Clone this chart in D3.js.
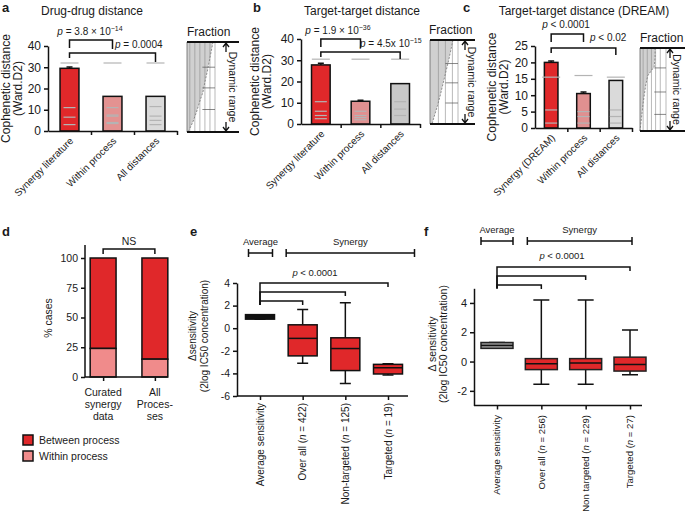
<!DOCTYPE html>
<meta charset="utf-8">
<script src="https://d3js.org/d3.v7.min.js"></script>
<style>
  body { margin: 0; background: #fff; }
  svg text { font-family: "Liberation Sans", Arial, sans-serif; fill: #1a1a1a; }
</style>
<div id="chart"></div>
<script>
var W = 685, H = 518;
var RED = "#e0282a";

// ---- a: drug-drug distance ----
var catsA = ["Synergy literature", "Within process", "All distances"];
var valsA = [29.5, 16.3, 16.3];
var errA = [0.6, 0, 0];
var dotsA = [[32, 11, 6.5, 3], [32, 11, 7.5, 7, 4, 3.5], [32, 11.5, 7, 5, 3]];
var fracA = [0.93, 0.86, 0.79, 0.72, 0.64, 0.57, 0.45, 0.34, 0.21, 0.04];

// ---- b: target-target distance ----
var catsB = ["Synergy literature", "Within process", "All distances"];
var valsB = [27.8, 10.7, 19];
var errB = [0.8, 0.5, 0];
var dotsB = [[30.5, 10.5, 6, 4, 2.5], [30.5, 6, 4, 3, 2], [30.5, 10.5, 7, 4]];
var fracB = [0.82, 0.75, 0.68, 0.6, 0.52, 0.44, 0.36, 0.27, 0.17, 0.07];

// ---- c: target-target distance (DREAM) ----
var catsC = ["Synergy (DREAM)", "Within process", "All distances"];
var valsC = [20, 10.5, 14.5];
var errC = [0.4, 0.5, 0];
var dotsC = [[15.5, 5.5, 1.5], [16, 5, 3.5, 1.5], [15.5, 5.5, 3.5, 1.5]];
var fracC = [0.58, 0.58, 0.55, 0.3, 0.22, 0.17, 0.12, 0.08, 0.04, 0.0];

// ---- d: % cases ----
var catsD = [["Curated", "synergy", "data"], ["All", "Proces-", "ses"]];
var withinD = [24, 15];
var betweenD = [76, 85];

// ---- e: delta sensitivity ----
var namesE = ["Average sensitivity", "Over all", "Non-targeted", "Targeted"];
var nE = [null, 422, 125, 19];
var minE = [0.8, -3.1, -4.9, -4.15];
var q1E = [0.8, -2.45, -3.75, -4.05];
var medE = [1.0, -0.9, -1.8, -3.5];
var q3E = [1.2, 0.3, -0.85, -3.2];
var maxE = [1.2, 1.65, 2.25, -3.15];

// ---- f: delta sensitivity ----
var namesF = ["Average sensitivity", "Over all", "Non targeted", "Targeted"];
var nF = [null, 256, 229, 27];
var minF = [0.9, -1.55, -1.55, -0.9];
var q1F = [0.9, -0.55, -0.55, -0.65];
var medF = [1.1, -0.15, -0.1, -0.2];
var q3F = [1.3, 0.2, 0.2, 0.3];
var maxF = [1.3, 4.2, 4.2, 2.15];

var svg = d3.select("#chart").append("svg")
  .attr("width", W).attr("height", H);

function txt(g, x, y, s, size, anchor) {
  return g.append("text").attr("x", x).attr("y", y)
    .attr("font-size", size).attr("text-anchor", anchor || "middle").text(s);
}

// text with italic / superscript pieces
function rich(g, x, y, parts, size, anchor) {
  var t = g.append("text").attr("x", x).attr("y", y)
    .attr("font-size", size).attr("text-anchor", anchor || "start");
  parts.forEach(function(p) {
    var s = t.append("tspan").text(p[0]);
    if (p[1] == "i") s.attr("font-style", "italic");
    if (p[1] == "sup") s.attr("font-size", size * 0.7).attr("dy", -size * 0.45);
  });
  return t;
}

function bracket(g, xa, xb, y, dl, dr) {
  g.append("path")
    .attr("d", "M" + xa + "," + (y + dl) + "V" + y + "H" + xb + "V" + (y + dr))
    .attr("fill", "none").attr("stroke", "#111").attr("stroke-width", 1.5);
}

function styleAxis(a, size) {
  a.selectAll("path, line").attr("stroke", "#111").attr("stroke-width", 1.5);
  a.selectAll("text").attr("font-size", size).attr("fill", "#1a1a1a")
    .attr("font-family", "Liberation Sans, Arial, sans-serif");
}

// ---------- bar panels a, b, c ----------
function barPanel(p) {
  var g = svg.append("g");
  var x = d3.scaleBand().domain(p.cats).range([p.x0, p.x1]);
  var xl = d3.scaleLinear().domain([0, p.cats.length]).range([p.x0, p.x1]);
  var y = d3.scaleLinear().domain([0, p.ymax]).range([p.y0, p.y1]);
  var bw = x.bandwidth() * p.bf;
  function cx(i) { return x(p.cats[i]) + x.bandwidth() / 2; }

  g.selectAll("rect.bar").data(p.vals).join("rect").attr("class", "bar")
    .attr("x", function(d, i) { return cx(i) - bw / 2; })
    .attr("y", function(d) { return y(d); })
    .attr("width", bw)
    .attr("height", function(d) { return y(0) - y(d); })
    .attr("fill", function(d, i) { return p.fills[i]; })
    .attr("stroke", "#111").attr("stroke-width", 1.5);

  // individual distances as grey dashes
  p.dots.forEach(function(list, i) {
    g.selectAll(null).data(list).join("line")
      .attr("x1", function(d, k) { return cx(i) - (k == 0 ? 9 : 6); })
      .attr("x2", function(d, k) { return cx(i) + (k == 0 ? 9 : 6); })
      .attr("y1", function(d) { return y(d); })
      .attr("y2", function(d) { return y(d); })
      .attr("stroke", "#b4b4b4").attr("stroke-width", 1.2);
  });

  // error bars
  p.err.forEach(function(e, i) {
    if (!e) return;
    var yt = y(p.vals[i] + e);
    g.append("path")
      .attr("d", "M" + cx(i) + "," + y(p.vals[i]) + "V" + yt + "M" + (cx(i) - 3) + "," + yt + "H" + (cx(i) + 3))
      .attr("stroke", "#111").attr("stroke-width", 1.5);
  });

  var ya = g.append("g").attr("transform", "translate(" + p.x0 + ",0)")
    .call(d3.axisLeft(y).tickValues(p.ticks).tickSize(4).tickSizeOuter(0).tickPadding(3));
  styleAxis(ya, 12);
  var xa = g.append("g").attr("transform", "translate(0," + p.y0 + ")")
    .call(d3.axisBottom(xl).tickValues(d3.range(1, p.cats.length + 1)).tickFormat("").tickSize(4).tickSizeOuter(0));
  styleAxis(xa, 10);

  p.cats.forEach(function(c, i) {
    g.append("text").attr("transform", "translate(" + (cx(i) + 2) + "," + (p.y0 + 8) + ") rotate(-45)")
      .attr("text-anchor", "end").attr("dy", "0.35em").attr("font-size", 10).text(c);
  });

  var ym = (p.y0 + p.y1) / 2;
  g.append("text").attr("transform", "translate(" + p.lx + "," + ym + ") rotate(-90)")
    .attr("text-anchor", "middle").attr("font-size", 12).text("Cophenetic distance");
  g.append("text").attr("transform", "translate(" + (p.lx + 12) + "," + ym + ") rotate(-90)")
    .attr("text-anchor", "middle").attr("font-size", 12).text("(Ward.D2)");

  txt(g, p.tx, 15, p.title, 12);
  txt(g, p.px, 12, p.letter, 13, "start").attr("font-weight", "bold");

  return { g: g, cx: cx, y: y };
}

// fraction / dynamic range inset
function inset(o) {
  var g = svg.append("g");
  var yy = d3.scaleLinear().domain([0, o.frac.length - 1]).range([o.top, o.bot]);
  var xx = d3.scaleLinear().domain([0, 1]).range([o.x0, o.x0 + o.w]);
  var area = d3.area().x0(o.x0).x1(function(d) { return xx(d); })
    .y(function(d, i) { return yy(i); });
  g.append("path").datum(o.frac).attr("d", area).attr("fill", "#d0d0d0");
  o.vgrid.forEach(function(v) {
    g.append("line").attr("x1", xx(v)).attr("x2", xx(v)).attr("y1", o.top).attr("y2", o.bot)
      .attr("stroke", "#8a8a8a").attr("stroke-width", 0.6);
  });
  o.hgrid.forEach(function(h) {
    g.append("line").attr("x1", xx(0.55)).attr("x2", xx(1)).attr("y1", o.top + h * (o.bot - o.top)).attr("y2", o.top + h * (o.bot - o.top))
      .attr("stroke", "#555").attr("stroke-width", 0.7);
  });
  var line = d3.line().x(function(d) { return xx(d); }).y(function(d, i) { return yy(i); });
  g.append("path").datum(o.frac).attr("d", line).attr("fill", "none")
    .attr("stroke", "#777").attr("stroke-width", 0.8).attr("stroke-dasharray", "2,1.5");
  g.append("line").attr("x1", o.x0).attr("x2", o.x0).attr("y1", o.top).attr("y2", o.bot)
    .attr("stroke", "#666").attr("stroke-width", 0.8);
  [o.top, o.bot].forEach(function(v) {
    g.append("line").attr("x1", o.x0).attr("x2", o.x0 + o.len).attr("y1", v).attr("y2", v)
      .attr("stroke", "#111").attr("stroke-width", 1.8);
  });
  var ax = o.x0 + o.ax;
  g.append("path").attr("d", "M" + ax + "," + (o.top + 1) + "V" + (o.top + 10) + "M" + (ax - 3) + "," + (o.top + 5) + "L" + ax + "," + (o.top + 1) + "L" + (ax + 3) + "," + (o.top + 5))
    .attr("fill", "none").attr("stroke", "#111").attr("stroke-width", 1.3);
  g.append("path").attr("d", "M" + ax + "," + (o.bot - 1) + "V" + (o.bot - 10) + "M" + (ax - 3) + "," + (o.bot - 5) + "L" + ax + "," + (o.bot - 1) + "L" + (ax + 3) + "," + (o.bot - 5))
    .attr("fill", "none").attr("stroke", "#111").attr("stroke-width", 1.3);
  g.append("text").attr("transform", "translate(" + (ax + 2) + "," + ((o.top + o.bot) / 2) + ") rotate(90)")
    .attr("text-anchor", "middle").attr("dy", "-0.1em").attr("font-size", 10.5).text("Dynamic range");
  txt(g, o.x0 + o.fx, o.top - 6, "Fraction", 12, "start");
}

// a
var pa = barPanel({ cats: catsA, vals: valsA, err: errA, dots: dotsA, x0: 48, x1: 177, y0: 131, y1: 46, ymax: 40,
  ticks: [0, 10, 20, 30, 40], bf: 0.44, fills: [RED, "#e39291", "#dadada"], lx: 10, tx: 92, title: "Drug-drug distance", px: 2, letter: "a" });
bracket(pa.g, pa.cx(0), pa.cx(1), 40, 8, 9);
bracket(pa.g, pa.cx(0), pa.cx(2), 53, 5, 9);
rich(pa.g, 90, 35, [["p", "i"], [" = 3.8 × 10"], ["−14", "sup"]], 10, "middle");
rich(pa.g, 115, 48, [["p", "i"], [" = 0.0004"]], 10, "start");
inset({ frac: fracA, x0: 187, top: 42, bot: 132, w: 28, len: 52, ax: 39, vgrid: [0.1, 0.28, 0.46, 0.64, 0.82, 1], hgrid: [0.28, 0.51, 0.75], fx: 0 });

// b
var pb = barPanel({ cats: catsB, vals: valsB, err: errB, dots: dotsB, x0: 301, x1: 420, y0: 124, y1: 39, ymax: 40,
  ticks: [0, 10, 20, 30, 40], bf: 0.47, fills: [RED, "#e09090", "#c8c8c8"], lx: 259, tx: 362, title: "Target-target distance", px: 253, letter: "b" });
bracket(pb.g, pb.cx(0), pb.cx(1), 39, 8, 9);
bracket(pb.g, pb.cx(0), pb.cx(2), 52, 5, 7);
rich(pb.g, 338, 34, [["p", "i"], [" = 1.9 × 10"], ["−36", "sup"]], 10, "middle");
rich(pb.g, 360, 47, [["p", "i"], [" = 4.5x 10"], ["−15", "sup"]], 10, "start");
inset({ frac: fracB, x0: 430, top: 40, bot: 124, w: 28, len: 45, ax: 35, vgrid: [0.3, 0.55, 0.8, 1], hgrid: [0.28, 0.51, 0.75], fx: -1 });

// c
var pc = barPanel({ cats: catsC, vals: valsC, err: errC, dots: dotsC, x0: 535, x1: 632, y0: 128, y1: 46, ymax: 25,
  ticks: [0, 5, 10, 15, 20, 25], bf: 0.42, fills: [RED, "#e09090", "#dadada"], lx: 496, tx: 584, title: "Target-target distance (DREAM)", px: 463, letter: "c" });
bracket(pc.g, pc.cx(0), pc.cx(1), 34, 8, 8);
bracket(pc.g, pc.cx(0), pc.cx(2), 48, 5, 7);
rich(pc.g, 566, 28, [["p", "i"], [" < 0.0001"]], 10, "middle");
rich(pc.g, 590, 41, [["p", "i"], [" < 0.02"]], 10, "start");
inset({ frac: fracC, x0: 640, top: 48, bot: 131, w: 26, len: 45, ax: 30, vgrid: [0.12, 0.28, 0.44, 0.6, 0.78, 1], hgrid: [0.24, 0.53, 0.8], fx: 0 });

// ---------- d ----------
(function() {
  var g = svg.append("g");
  var x = d3.scaleBand().domain([0, 1]).range([85, 173]).paddingInner(0.5).paddingOuter(0.1);
  var y = d3.scaleLinear().domain([0, 100]).range([377, 258]);
  var bw = x.bandwidth();
  g.selectAll("rect.bt").data(betweenD).join("rect")
    .attr("x", function(d, i) { return x(i); }).attr("width", bw)
    .attr("y", y(100)).attr("height", function(d, i) { return y(withinD[i]) - y(100); })
    .attr("fill", RED).attr("stroke", "#111").attr("stroke-width", 1.5);
  g.selectAll("rect.wt").data(withinD).join("rect")
    .attr("x", function(d, i) { return x(i); }).attr("width", bw)
    .attr("y", function(d) { return y(d); }).attr("height", function(d) { return y(0) - y(d); })
    .attr("fill", "#f08b8b").attr("stroke", "#111").attr("stroke-width", 1.5);
  var ya = g.append("g").attr("transform", "translate(85,0)")
    .call(d3.axisLeft(y).tickValues([0, 25, 50, 75, 100]).tickSize(4).tickSizeOuter(0).tickPadding(3));
  ya.select(".domain").attr("d", "M0,245V377");
  styleAxis(ya, 10.5);
  var xp = d3.scaleLinear().domain([0, 1]).range([x(0) + bw / 2, x(1) + bw / 2]);
  var xa = g.append("g").attr("transform", "translate(0,377)")
    .call(d3.axisBottom(xp).tickValues([0, 1]).tickFormat("").tickSize(4).tickSizeOuter(0));
  xa.select(".domain").attr("d", "M85,0H" + (x(1) + bw));
  styleAxis(xa, 10);
  catsD.forEach(function(lines, i) {
    lines.forEach(function(l, k) { txt(g, xp(i), 396 + k * 12, l, 10.5); });
  });
  g.append("text").attr("transform", "translate(52,318) rotate(-90)")
    .attr("text-anchor", "middle").attr("font-size", 10.5).text("% cases");
  bracket(g, xp(0), xp(1), 249, 5, 5);
  txt(g, (xp(0) + xp(1)) / 2, 245, "NS", 10.5);
  txt(g, 2, 236, "d", 13, "start").attr("font-weight", "bold");
  var leg = [["Between process", RED], ["Within process", "#f08b8b"]];
  leg.forEach(function(l, i) {
    g.append("rect").attr("x", 23).attr("y", 435 + i * 16).attr("width", 10).attr("height", 10)
      .attr("fill", l[1]).attr("stroke", "#111").attr("stroke-width", 1.5);
    txt(g, 39, 444 + i * 16, l[0], 10.5, "start");
  });
})();

// ---------- box panels e, f ----------
function boxPanel(p) {
  var g = svg.append("g");
  var x = d3.scalePoint().domain(d3.range(p.names.length)).range([p.c0, p.c1]);
  var y = d3.scaleLinear().domain(p.dom).range([p.y0, p.y1]);
  var bw = p.bw, cw = p.cw;
  p.names.forEach(function(n, i) {
    var cx = x(i);
    g.append("path").attr("d", "M" + cx + "," + y(p.max[i]) + "V" + y(p.q3[i]) + "M" + cx + "," + y(p.q1[i]) + "V" + y(p.min[i])
      + "M" + (cx - cw / 2) + "," + y(p.max[i]) + "H" + (cx + cw / 2) + "M" + (cx - cw / 2) + "," + y(p.min[i]) + "H" + (cx + cw / 2))
      .attr("stroke", "#111").attr("stroke-width", 1.5).attr("fill", "none");
    g.append("rect").attr("x", cx - bw / 2).attr("width", bw)
      .attr("y", y(p.q3[i])).attr("height", y(p.q1[i]) - y(p.q3[i]))
      .attr("fill", i == 0 ? p.avgFill : RED).attr("stroke", p.boxStroke).attr("stroke-width", 1.5);
    g.append("line").attr("x1", cx - bw / 2).attr("x2", cx + bw / 2).attr("y1", y(p.med[i])).attr("y2", y(p.med[i]))
      .attr("stroke", "#111").attr("stroke-width", 1.5);
    var t = g.append("text").attr("transform", "translate(" + cx + "," + p.ly + ") rotate(-90)")
      .attr("text-anchor", "end").attr("dy", "0.35em").attr("font-size", p.xfs);
    if (p.n[i] == null) t.text(n);
    else {
      t.append("tspan").text(n + " (");
      t.append("tspan").attr("font-style", "italic").text("n");
      t.append("tspan").text(" = " + p.n[i] + ")");
    }
  });
  var ya = g.append("g").attr("transform", "translate(" + p.x0 + ",0)")
    .call(d3.axisLeft(y).tickValues(p.ticks).tickFormat(d3.format("d")).tickSize(4).tickSizeOuter(0).tickPadding(3));
  styleAxis(ya, p.tfs);
  ya.selectAll("text").text(function(d) { return d < 0 ? "-" + (-d) : d; });
  var xa = g.append("g").attr("transform", "translate(0," + p.y0 + ")")
    .call(d3.axisBottom(x).tickFormat("").tickSize(4).tickSizeOuter(0));
  xa.select(".domain").attr("d", "M" + p.x0 + ",0H" + p.x1);
  styleAxis(xa, 10);
  var ym = p.ym;
  g.append("text").attr("transform", "translate(" + p.lx + "," + ym + ") rotate(-90)")
    .attr("text-anchor", "middle").attr("font-size", p.lfs).text(p.ylab);
  g.append("text").attr("transform", "translate(" + (p.lx + p.lgap) + "," + ym + ") rotate(-90)")
    .attr("text-anchor", "middle").attr("font-size", p.lfs).text("(2log IC50 concentration)");

  // group spans
  function span(xa_, xb_, yv, label) {
    g.append("path").attr("d", "M" + xa_ + "," + yv + "H" + xb_ + "M" + xa_ + "," + (yv - 4) + "V" + (yv + 4) + "M" + xb_ + "," + (yv - 4) + "V" + (yv + 4))
      .attr("stroke", "#111").attr("stroke-width", 1.5);
    txt(g, (xa_ + xb_) / 2, yv - 8, label, 9.5);
  }
  span(x(0) - bw / 2 + p.sp[0], x(0) + bw / 2 + p.sp[1], p.spanY, "Average");
  span(x(1) - bw / 2 + p.sp[2], x(3) + bw / 2 + p.sp[3], p.spanY, "Synergy");

  // significance brackets
  p.br.forEach(function(b, k) {
    bracket(g, x(0), x(3 - k), b, p.brLeg[k], 4);
  });
  rich(g, p.ptx, p.pty, [["p", "i"], [" < 0.0001"]], 9.5, "middle");
  txt(g, p.px, p.py, p.letter, 13, "start").attr("font-weight", "bold");
  return g;
}

boxPanel({ names: namesE, n: nE, min: minE, q1: q1E, med: medE, q3: q3E, max: maxE,
  c0: 260, c1: 388, x0: 237, x1: 408, y0: 396, y1: 283, dom: [-6, 4], ticks: [-6, -4, -2, 0, 2, 4],
  bw: 29, cw: 11, avgFill: "#111", boxStroke: "#111", ly: 403, xfs: 10, lfs: 10, tfs: 10.5,
  lx: 196, lgap: 12, ym: 336, ylab: "\u0394sensitivity",
  spanY: 253, sp: [3, -2, -2, 12], br: [283, 292, 301], brLeg: [22, 13, 4], ptx: 315, pty: 276,
  px: 190, py: 236, letter: "e" });

boxPanel({ names: namesF, n: nF, min: minF, q1: q1F, med: medF, q3: q3F, max: maxF,
  c0: 497, c1: 630, x0: 474, x1: 642, y0: 405.5, y1: 288.3, dom: [-3, 5], ticks: [-2, 0, 2, 4],
  bw: 32, cw: 16, avgFill: "#9a9a9a", boxStroke: "#222", ly: 415, xfs: 9.6, lfs: 10.5, tfs: 11,
  lx: 436, lgap: 11, ym: 344, ylab: "\u0394 sensitivity",
  spanY: 241, sp: [0, 0, 2, -14], br: [267, 276, 285], brLeg: [21, 12, 4], ptx: 562, pty: 259,
  px: 424, py: 236, letter: "f" });
</script>
